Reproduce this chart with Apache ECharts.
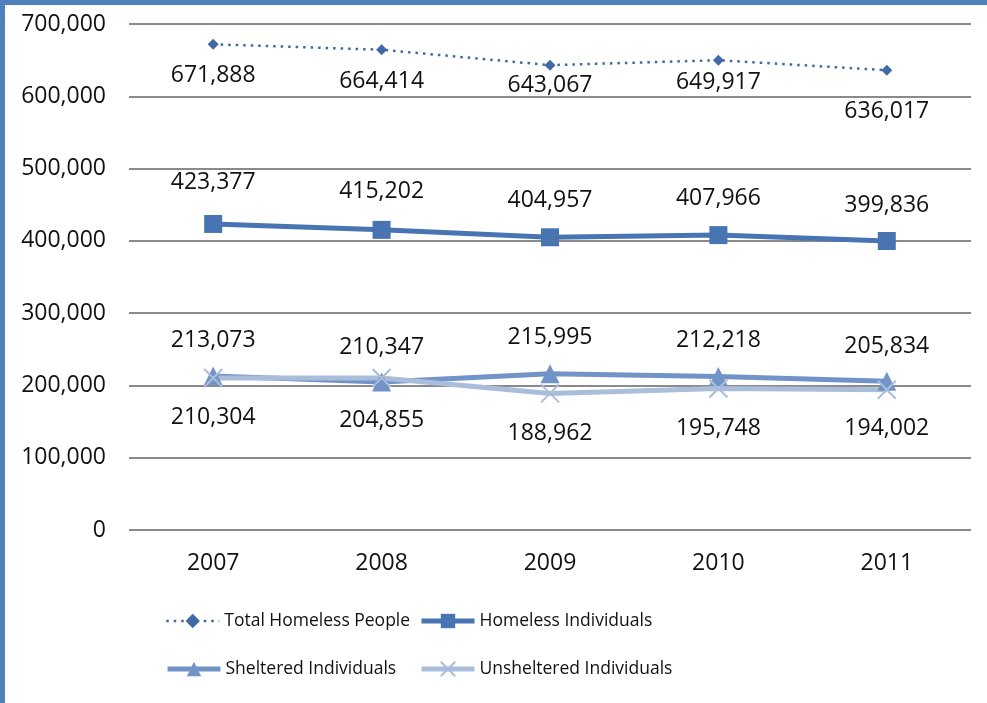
<!DOCTYPE html>
<html>
<head>
<meta charset="utf-8">
<script src="https://cdn.jsdelivr.net/npm/echarts@6/dist/echarts.min.js"></script>
<style>
html,body{margin:0;padding:0;background:#fff;}
#c{width:987px;height:703px;}
</style>
</head>
<body>
<div id="c"></div>
<script>
var years = ['2007', '2008', '2009', '2010', '2011'];
var totalHomeless = [671888, 664414, 643067, 649917, 636017];
var homelessIndividuals = [423377, 415202, 404957, 407966, 399836];
var shelteredIndividuals = [213073, 204855, 215995, 212218, 205834];
var unshelteredIndividuals = [210304, 210347, 188962, 195748, 194002];
var yTicks = [0, 100000, 200000, 300000, 400000, 500000, 600000, 700000];

// label vertical offsets (px) per point
var totalLabelDy = [31, 32, 20, 22, 41];
var homelessLabelDy = [-42, -38, -37, -37, -36];
var shelteredLabelDy = [-36, 39, -36, -36, -35];
var unshelteredLabelDy = [39, -30, 40, 40, 39];

function fmt(v) { return v.toLocaleString('en-US'); }
function withLabels(values, dys) {
  return values.map(function (v, i) {
    return { value: v, label: { offset: [0, dys[i]] } };
  });
}

var FONT = '"Open Sans", "Noto Sans", sans-serif';
var labelBase = {
  show: true, position: 'inside', color: '#111', fontSize: 23, fontFamily: FONT,
  formatter: function (p) { return fmt(p.value); }
};

var chart = echarts.init(document.getElementById('c'), null, { renderer: 'canvas' });

function legendAt(name, left, top, lw) {
  return {
    data: [name], left: left, top: top, orient: 'horizontal',
    itemWidth: 53, itemHeight: 18, itemGap: 0, padding: 0,
    lineStyle: { width: lw },
    textStyle: { fontSize: 17.5, fontFamily: FONT, color: '#111', lineHeight: 26 }
  };
}

chart.setOption({
  animation: false,
  backgroundColor: '#fff',
  graphic: [
    { type: 'rect', left: 0, top: 0, shape: { width: 5, height: 703 }, style: { fill: '#4F81BD' }, silent: true },
    { type: 'rect', left: 0, top: 0, shape: { width: 987, height: 5 }, style: { fill: '#4F81BD' }, silent: true }
  ],
  grid: { left: 129, right: 16, top: 24, bottom: 173, containLabel: false },
  legend: [
    legendAt('Total Homeless People', 165, 608, 2.5),
    legendAt('Homeless Individuals', 419, 608, 5),
    legendAt('Sheltered Individuals', 165, 656, 5),
    legendAt('Unsheltered Individuals', 419, 656, 5)
  ],
  xAxis: {
    type: 'category', data: years, boundaryGap: true,
    axisLine: { show: false }, axisTick: { show: false },
    axisLabel: { color: '#111', fontSize: 23, fontFamily: FONT, margin: 22 }
  },
  yAxis: {
    type: 'value', min: yTicks[0], max: yTicks[yTicks.length - 1], interval: 100000,
    axisLine: { show: false }, axisTick: { show: false },
    axisLabel: { color: '#111', fontSize: 23, fontFamily: FONT, margin: 23, formatter: function (v) { return fmt(v); } },
    splitLine: { lineStyle: { color: '#8a8a8a', width: 2 } }
  },
  series: [
    {
      name: 'Total Homeless People', type: 'line', data: withLabels(totalHomeless, totalLabelDy),
      symbol: 'diamond', symbolSize: 11, showAllSymbol: true,
      lineStyle: { color: '#3F6AA6', width: 2.5, type: [2.5, 5] },
      itemStyle: { color: '#3F6AA6' },
      label: labelBase, z: 5
    },
    {
      name: 'Homeless Individuals', type: 'line', data: withLabels(homelessIndividuals, homelessLabelDy),
      symbol: 'rect', symbolSize: 18,
      lineStyle: { color: '#4874B2', width: 5 },
      itemStyle: { color: '#4874B2' },
      label: labelBase, z: 4
    },
    {
      name: 'Sheltered Individuals', type: 'line', data: withLabels(shelteredIndividuals, shelteredLabelDy),
      symbol: 'triangle', symbolSize: 19,
      lineStyle: { color: '#7293C8', width: 5 },
      itemStyle: { color: '#7293C8' },
      label: labelBase, z: 3
    },
    {
      name: 'Unsheltered Individuals', type: 'line', data: withLabels(unshelteredIndividuals, unshelteredLabelDy),
      symbol: 'path://M0,0L10,10M10,0L0,10', symbolSize: 18,
      lineStyle: { color: '#AABDDB', width: 5 },
      itemStyle: { color: '#AABDDB', borderColor: '#AABDDB', borderWidth: 2 },
      label: labelBase, z: 3
    }
  ]
});
</script>
</body>
</html>
